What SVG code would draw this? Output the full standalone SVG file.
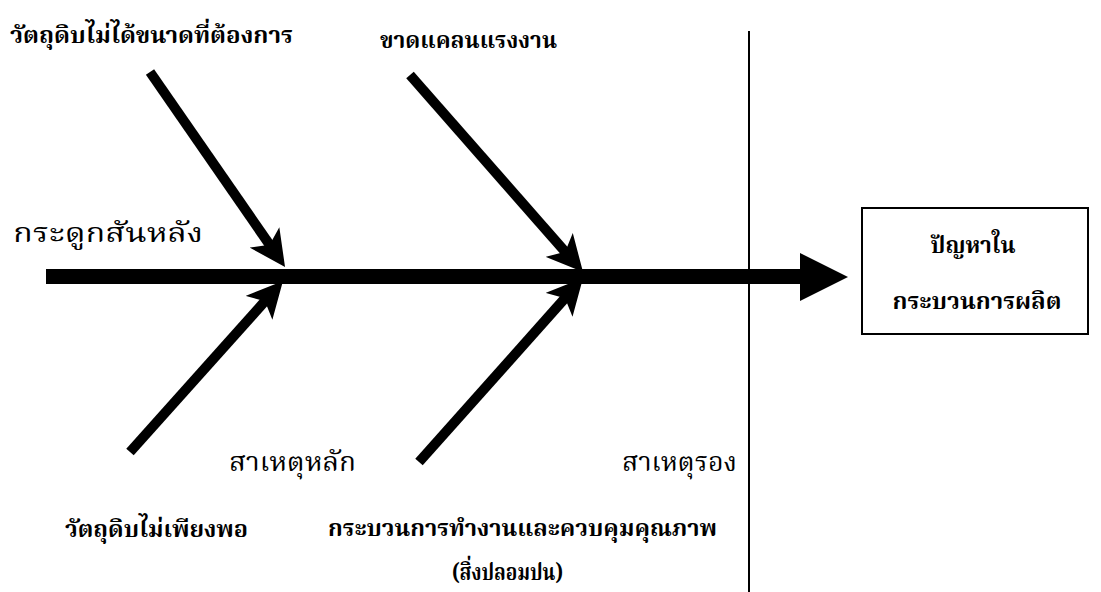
<svg xmlns="http://www.w3.org/2000/svg" width="1101" height="592" viewBox="0 0 1101 592">
<style>
.t{font-family:"Noto Serif Thai","Noto Sans Thai","Noto Sans","DejaVu Sans",serif;fill:#000}
.b{font-weight:bold;font-size:23px}
.r{font-weight:normal;font-size:27px}
.bone{stroke:#000;stroke-width:10;fill:none}
</style>
<defs>
<marker id="ah" markerUnits="userSpaceOnUse" markerWidth="36" markerHeight="36" viewBox="0 0 36 36" refX="14" refY="18" orient="auto">
<path d="M0,0 L36,18 L0,36 L9,18 z" fill="#000"/>
</marker>
</defs>
<rect width="1101" height="592" fill="#fff"/>
<g id="connectors">
<line x1="46" y1="276.5" x2="805" y2="276.5" stroke="#000" stroke-width="15"/>
<polygon points="800,253 848,277 800,301" fill="#000"/>
<line class="bone" x1="150" y1="72" x2="272.5" y2="248.9" marker-end="url(#ah)"/>
<line class="bone" x1="410" y1="75" x2="568.5" y2="255.5" marker-end="url(#ah)"/>
<line class="bone" x1="130" y1="452" x2="268.3" y2="297.4" marker-end="url(#ah)"/>
<line class="bone" x1="419" y1="462" x2="568.4" y2="294.4" marker-end="url(#ah)"/>
<line x1="749" y1="31" x2="749" y2="592" stroke="#000" stroke-width="2"/>
</g>
<g id="effect">
<rect x="862" y="208" width="226" height="126" fill="#fff" stroke="#000" stroke-width="2"/>
<text class="t b" x="973" y="253" text-anchor="middle" textLength="85" lengthAdjust="spacingAndGlyphs">ปัญหาใน</text>
<text class="t b" x="977" y="309" text-anchor="middle" textLength="169" lengthAdjust="spacingAndGlyphs">กระบวนการผลิต</text>
</g>
<g id="cause-material-size"><text class="t b" x="10" y="43" textLength="283" lengthAdjust="spacingAndGlyphs">วัตถุดิบไม่ได้ขนาดที่ต้องการ</text></g>
<g id="cause-labor"><text class="t b" x="380" y="48" textLength="177" lengthAdjust="spacingAndGlyphs">ขาดแคลนแรงงาน</text></g>
<g id="label-spine"><text class="t r" x="13" y="242" textLength="190" lengthAdjust="spacingAndGlyphs">กระดูกสันหลัง</text></g>
<g id="label-main"><text class="t r" x="229" y="471" textLength="127" lengthAdjust="spacingAndGlyphs">สาเหตุหลัก</text></g>
<g id="label-sub"><text class="t r" x="622" y="471" textLength="115" lengthAdjust="spacingAndGlyphs">สาเหตุรอง</text></g>
<g id="cause-material-short"><text class="t b" x="65" y="537" textLength="183" lengthAdjust="spacingAndGlyphs">วัตถุดิบไม่เพียงพอ</text></g>
<g id="cause-process"><text class="t b" x="328" y="536" textLength="389" lengthAdjust="spacingAndGlyphs">กระบวนการทำงานและควบคุมคุณภาพ</text>
<text class="t b" x="452" y="580" textLength="111" lengthAdjust="spacingAndGlyphs">(สิ่งปลอมปน)</text></g>
</svg>
